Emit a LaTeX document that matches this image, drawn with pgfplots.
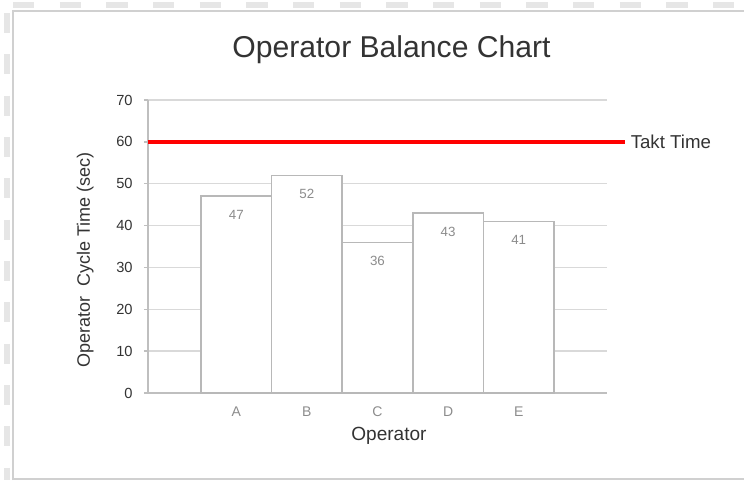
\documentclass[border=0pt]{standalone}
\usepackage{pgfplots}
\pgfplotsset{compat=1.18}
\usepackage{fontspec}
\setmainfont{Liberation Sans}
\definecolor{gridc}{HTML}{D9D9D9}
\definecolor{axc}{HTML}{BFBFBF}
\definecolor{barc}{HTML}{B8B8B8}
\definecolor{txtd}{HTML}{333333}
\definecolor{txtg}{HTML}{8C8C8C}
\definecolor{framec}{HTML}{D0D0D0}
\definecolor{dashc}{HTML}{E6E6E6}
\begin{document}
\begin{tikzpicture}[x=0.75pt,y=0.75pt]
\useasboundingbox (0,0) rectangle (744,480);
% frame decoration
\draw[dashc, line width=5pt, dash pattern=on 16pt off 19pt] (13,475) -- (744,475);
\draw[dashc, line width=5pt, dash pattern=on 15pt off 16pt] (7,467) -- (7,0);
\draw[framec, line width=1.6pt] (13,0) -- (13,469) -- (744,469);
\draw[framec, line width=1.2pt] (13,1) -- (744,1);
% title
\node[text=txtd, font=\fontsize{22.6}{26}\selectfont] at (391.5,430) {Operator Balance Chart};
\begin{axis}[
  at={(111pt,65.25pt)}, anchor=south west, scale only axis,
  width=344.25pt, height=219.75pt,
  xmin=-0.25, xmax=6.25, ymin=0, ymax=70,
  ytick={0,10,...,70},
  xtick={1,2,3,4,5}, xticklabels={A,B,C,D,E},
  axis x line*=bottom, axis y line*=left,
  axis line style={axc, line width=1pt},
  ymajorgrids, grid style={gridc, line width=1pt},
  tick align=outside,
  y tick style={axc, line width=1pt},
  major tick length=3pt,
  x tick style={draw=none},
  /pgf/number format/assume math mode=true,
  yticklabel style={text=txtd, font=\fontsize{11}{12}\selectfont, xshift=-5pt},
  xticklabel style={text=txtg, font=\fontsize{10.5}{12}\selectfont, yshift=-4pt},
  xlabel={Operator},
  ylabel={Operator\ \ Cycle Time (sec)},
  xlabel style={text=txtd, font=\fontsize{14.3}{16}\selectfont, at={(axis description cs:0.525,-0.147)}, anchor=center},
  ylabel style={text=txtd, font=\fontsize{13.5}{16}\selectfont, at={(axis description cs:-0.137,0.454)}, anchor=center, rotate=0},
  clip=false,
]
\addplot[ybar, bar width=1, fill=white, draw=barc, line width=1.2pt,
  nodes near coords,
  every node near coord/.append style={anchor=center, yshift=-14pt, text=txtg, font=\fontsize{10}{12}\selectfont}]
  coordinates {(1,47) (2,52) (3,36) (4,43) (5,41)};
\addplot[red, line width=3pt, forget plot] coordinates {(-0.25,60) (6.5,60)};
\node[anchor=west, text=txtd, font=\fontsize{14}{16}\selectfont] at (axis cs:6.52,60) {Takt Time};
\end{axis}
\end{tikzpicture}
\end{document}
